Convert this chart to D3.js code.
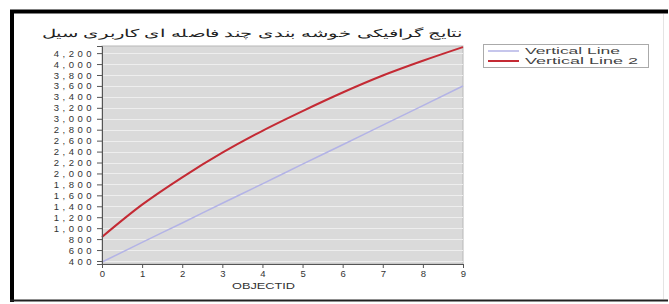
<!DOCTYPE html>
<html>
<head>
<meta charset="utf-8">
<script src="https://cdn.jsdelivr.net/npm/d3@7"></script>
<style>
  body { margin: 0; background: #fff; }
  svg { display: block; font-family: "Liberation Sans", Arial, sans-serif; }
</style>
</head>
<body>
<svg id="chart" width="669" height="304"></svg>
<script>
// Data
const objectIds = [0, 1, 2, 3, 4, 5, 6, 7, 8, 9];
const verticalLine = [380, 740, 1095, 1455, 1810, 2170, 2525, 2885, 3240, 3600];
const verticalLine2 = [840, 1430, 1930, 2380, 2780, 3140, 3480, 3790, 4060, 4310];
const yTicks = d3.range(400, 4201, 200);
const seriesNames = ["Vertical Line", "Vertical Line 2"];
const seriesColors = ["#b3b3e6", "#c42a34"];
const title = "نتایج گرافیکی خوشه بندی چند فاصله ای کاربری سیل";

const svg = d3.select("#chart");

// Screenshot frame
svg.append("line").attr("x1", 10).attr("x2", 668).attr("y1", 11.5).attr("y2", 11.5)
  .attr("stroke", "#000").attr("stroke-width", 4);
svg.append("line").attr("x1", 12).attr("x2", 12).attr("y1", 10).attr("y2", 302)
  .attr("stroke", "#000").attr("stroke-width", 4);
svg.append("line").attr("x1", 10).attr("x2", 668).attr("y1", 300.5).attr("y2", 300.5)
  .attr("stroke", "#222").attr("stroke-width", 2);
svg.append("line").attr("x1", 663.5).attr("x2", 663.5).attr("y1", 14).attr("y2", 299)
  .attr("stroke", "#e4e4e4").attr("stroke-width", 1);

const margin = { left: 102, top: 46, right: 463, bottom: 264 };

const x = d3.scaleLinear().domain([0, 9]).range([margin.left, margin.right]);
const y = d3.scaleLinear().domain([345, 4330]).range([margin.bottom, margin.top]);

// Plot background
svg.append("rect")
  .attr("x", margin.left).attr("y", margin.top)
  .attr("width", margin.right - margin.left).attr("height", margin.bottom - margin.top)
  .attr("fill", "#dadada").attr("stroke", "#b8b8b8");

// Grid lines
svg.append("g").selectAll("line").data(yTicks).enter().append("line")
  .attr("x1", margin.left).attr("x2", margin.right)
  .attr("y1", d => Math.round(y(d)) + 0.5).attr("y2", d => Math.round(y(d)) + 0.5)
  .attr("stroke", "#eeeeee").attr("stroke-width", 1);

// Lines
const series = [verticalLine, verticalLine2];
const line = d3.line().x((d, i) => x(objectIds[i])).y(d => y(d)).curve(d3.curveMonotoneX);
series.forEach((s, k) => {
  svg.append("path").datum(s)
    .attr("fill", "none")
    .attr("stroke", seriesColors[k])
    .attr("stroke-width", k === 1 ? 2 : 1.5)
    .attr("d", line);
});

// Y axis
const yAxis = svg.append("g")
  .attr("transform", `translate(${margin.left},0)`)
  .call(d3.axisLeft(y).tickValues(yTicks).tickFormat(d3.format(",")).tickSize(5).tickPadding(2));
yAxis.select(".domain").attr("stroke", "#555");
yAxis.selectAll("line").attr("stroke", "#555");
yAxis.selectAll("text").style("font-size", "9.5px").attr("fill", "#333")
  .attr("letter-spacing", "3.5px");

// X axis
const xAxis = svg.append("g")
  .attr("transform", `translate(0,${margin.bottom})`)
  .call(d3.axisBottom(x).tickValues(objectIds).tickFormat(d3.format("d")).tickSize(4).tickPadding(2));
xAxis.select(".domain").attr("stroke", "#555");
xAxis.selectAll("line").attr("stroke", "#555");
xAxis.selectAll("text").style("font-size", "9.5px").attr("fill", "#333");

svg.append("text")
  .attr("x", 232).attr("y", 289)
  .attr("textLength", 63).attr("lengthAdjust", "spacingAndGlyphs")
  .style("font-size", "9px").attr("fill", "#333")
  .text("OBJECTID");

// Title
svg.append("text")
  .attr("x", 42).attr("y", 37)
  .attr("textLength", 420).attr("lengthAdjust", "spacingAndGlyphs")
  .style("font-size", "11px").attr("fill", "#222")
  .text(title);

// Legend
const legendLengths = [95, 113];
const legend = svg.append("g").attr("transform", "translate(483,44)");
legend.append("rect").attr("x", 0.5).attr("y", 0.5).attr("width", 165).attr("height", 23)
  .attr("fill", "#fff").attr("stroke", "#aaa");
seriesNames.forEach((name, k) => {
  const ly = 7 + k * 10;
  legend.append("line").attr("x1", 5).attr("x2", 36).attr("y1", ly).attr("y2", ly)
    .attr("stroke", seriesColors[k]).attr("stroke-width", k === 1 ? 2 : 1.5);
  legend.append("text").attr("x", 42).attr("y", ly + 3)
    .attr("textLength", legendLengths[k]).attr("lengthAdjust", "spacingAndGlyphs")
    .style("font-size", "9px").attr("fill", "#444")
    .text(name);
});
</script>
</body>
</html>
